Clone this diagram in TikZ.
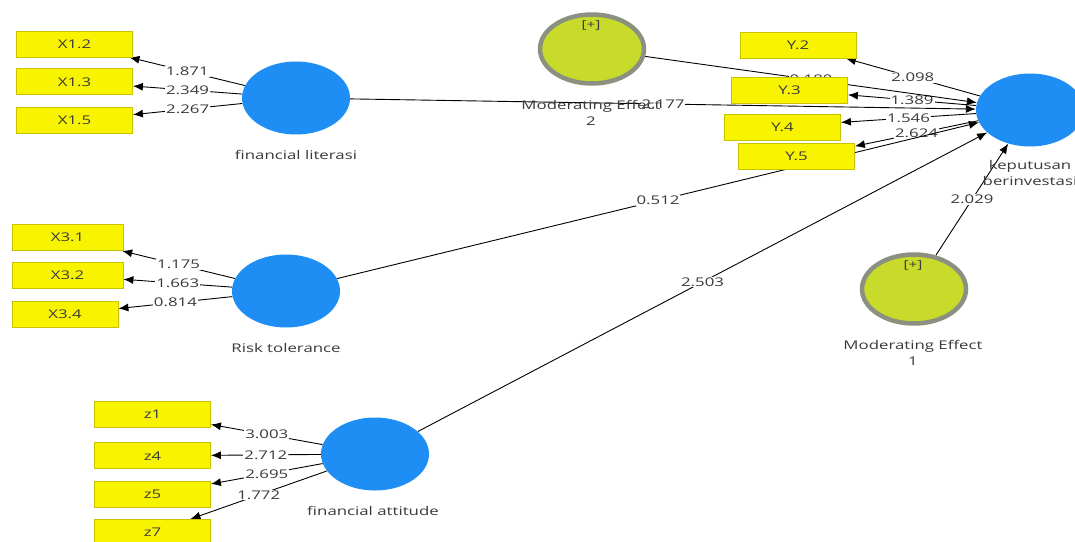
\documentclass[tikz,border=0pt]{standalone}
\usepackage{fontspec}
\setmainfont[FakeStretch=1.4]{Open Sans}
\usetikzlibrary{arrows.meta,positioning,shapes.geometric,backgrounds}
\definecolor{cind}{HTML}{F8F400}
\definecolor{cindD}{HTML}{C9C200}
\definecolor{clat}{HTML}{1E8EF5}
\definecolor{cmod}{HTML}{C8DA2A}
\definecolor{cmodD}{HTML}{8A9180}
\definecolor{ctxt}{HTML}{3A3A3A}
\tikzset{
  ind/.style={draw=cindD, fill=cind, line width=0.8pt, minimum width=116pt,
              minimum height=26pt, inner sep=0pt, text=ctxt,
              font=\fontsize{12}{14}\selectfont},
  lat/.style={ellipse, fill=clat, minimum width=108pt, minimum height=73pt, inner sep=0pt},
  moder/.style={ellipse, fill=cmod, draw=cmodD, line width=4.5pt,
                minimum width=104pt, minimum height=69pt, inner sep=0pt},
  lname/.style={align=center, text=ctxt, font=\fontsize{12}{16}\selectfont},
  load/.style={-{Latex[length=10pt,width=8pt]}, line width=0.9pt},
  coef/.style={midway, fill=white, inner sep=1pt, text=ctxt,
               font=\fontsize{12}{13}\selectfont},
}
\begin{document}
\begin{tikzpicture}[x=1pt, y=-1pt, node distance=11pt]
  \useasboundingbox (0,0) rectangle (1075,541);
  % latent variables
  \node[lat] (fl) at (296,98) {};
  \node[lat] (rt) at (286,291) {};
  \node[lat] (fa) at (375,454) {};
  \node[lat] (kb) at (1030,110) {};
  \node[moder] (me2) at (592,49) {};
  \node[moder] (me1) at (914,289) {};
  \node[lname, font=\fontsize{11}{12}\selectfont] (me2p) at (591,25) {[+]};
  \node[lname, font=\fontsize{11}{12}\selectfont] (me1p) at (913,265) {[+]};
  % indicators
  \node[ind] (x12) at (74.5,44) {X1.2};
  \node[ind, below=of x12] (x13) {X1.3};
  \node[ind, below=12pt of x13] (x15) {X1.5};
  \node[ind, minimum width=111pt] (x31) at (67.5,237.5) {X3.1};
  \node[ind, minimum width=111pt, below=of x31] (x32) {X3.2};
  \node[ind, minimum width=106pt, below=12pt of x32.south west, anchor=north west] (x34) {X3.4};
  \node[ind] (z1) at (152.5,414) {z1};
  \node[ind, below=15pt of z1] (z4) {z4};
  \node[ind, below=12pt of z4] (z5) {z5};
  \node[ind, below=of z5] (z7) {z7};
  \node[ind] (y2) at (798,45) {Y.2};
  \node[ind] (y3) at (789.5,90) {Y.3};
  \node[ind] (y4) at (782.5,127.5) {Y.4};
  \node[ind] (y5) at (796.5,156.5) {Y.5};
  % names
  \node[lname] (flt) at (296,155) {financial literasi};
  \node[lname] (rtt) at (286,348) {Risk tolerance};
  \node[lname] (fat) at (373,511) {financial attitude};
  \node[lname] (kbt) at (1030,173) {keputusan\\berinvestasi};
  \node[lname] (me2t) at (591,113) {Moderating Effect\\2};
  \node[lname] (me1t) at (913,353) {Moderating Effect\\1};
  % paths
  \begin{scope}[on background layer]
    \fill[white] (0,0) rectangle (1075,541);
    \foreach \t/\v in {x12/1.871, x13/2.349, x15/2.267}
      \draw[load] (fl) -- (\t) node[coef] {\v};
    \foreach \t/\v in {x31/1.175, x32/1.663, x34/0.814}
      \draw[load] (rt) -- (\t) node[coef] {\v};
    \foreach \t/\v in {z1/3.003, z4/2.712, z5/2.695, z7/1.772}
      \draw[load] (fa) -- (\t) node[coef] {\v};
    \foreach \t/\v in {y2/2.098, y3/1.389, y4.5/1.546, y5.10/2.624}
      \draw[load] (kb) -- (\t) node[coef] {\v};
    \draw[load] (fl) -- (kb) node[coef] {2.177};
    \draw[load] (me2) -- (kb) node[coef] {0.180};
    \draw[load] (rt) -- (kb) node[coef] {0.512};
    \draw[load] (fa) -- (kb) node[coef] {2.503};
    \draw[load] (me1) -- (kb) node[coef] {2.029};
  \end{scope}
\end{tikzpicture}
\end{document}
